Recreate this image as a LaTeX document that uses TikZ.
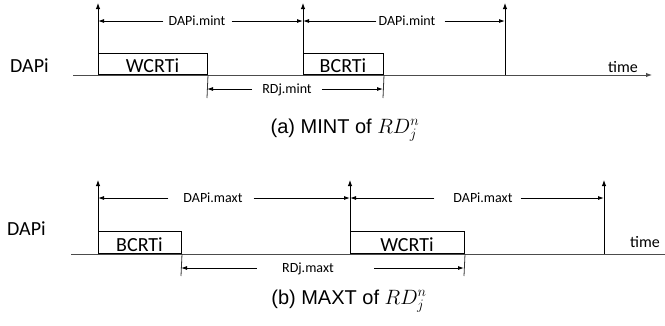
\documentclass[tikz,border=0pt]{standalone}
\usepackage{fontspec}
\setmainfont{Liberation Sans}
\newfontfamily\calfont{Carlito}
\usetikzlibrary{arrows.meta}
\begin{document}
\begin{tikzpicture}[x=1pt,y=-1pt,
  ax/.style={line width=1pt, black!70},
  tk/.style={line width=1pt, -{Latex[length=6pt,width=4.5pt]}},
  dim/.style={line width=0.9pt, -{Latex[length=6pt,width=4pt]}},
  tickline/.style={line width=0.8pt, black!80},
  job/.style={draw, line width=1pt, inner sep=0pt, anchor=south west},
  lbl/.style={font=\calfont\fontsize{20}{22}\selectfont, inner sep=0pt, anchor=base},
  dl/.style={font=\calfont\fontsize{14}{16}\selectfont, inner sep=0pt, text height=9pt, text depth=0pt, anchor=center},
  tl/.style={font=\calfont\fontsize{16}{18}\selectfont, inner sep=0pt, anchor=base west},
  captext/.style={font=\fontsize{20}{24}\selectfont, inner sep=0pt, anchor=base}]
\useasboundingbox (0,0) rectangle (665,325);

% ---------------- panel (a) ----------------
\coordinate (a0) at (73,75);
\coordinate (aE) at (652,75);
\draw[ax,-{Latex[length=6pt,width=4.5pt]}] (a0) -- (aE);
\coordinate (ap1b) at (98,75);  \coordinate (ap1t) at (98,3);
\coordinate (ap2b) at (303,75); \coordinate (ap2t) at (303,3);
\coordinate (ap3b) at (505,75); \coordinate (ap3t) at (505,3);

\node[job, minimum width=109pt, minimum height=21pt] (wa) at (98,75) {};
\node[job, minimum width=80pt, minimum height=21pt] (ba) at (303,75) {};
\node[lbl] (wat) at (152.5,72) {WCRTi};
\node[lbl] (bat) at (343,72) {BCRTi};

\draw[tk] (ap1b) -- (ap1t);
\draw[tk] (ap2b) -- (ap2t);
\draw[tk] (ap3b) -- (ap3t);

\node[lbl, anchor=base west] (dapa) at (10,72) {DAPi};
\node[tl] (timea) at (608,72) {time};

\node[dl] (da1) at (197,21) {DAPi.mint};
\draw[dim, shorten <=5pt] (da1.west) -- (da1.west -| ap1t);
\draw[dim, shorten <=6pt] (da1.east) -- (da1.east -| ap2t);
\node[dl] (da2) at (407,21) {DAPi.mint};
\draw[dim, shorten <=2pt] (da2.west) -- (da2.west -| ap2t);
\draw[dim, shorten <=9pt] (da2.east) -- (da2.east -| ap3t);

\coordinate (ta1) at (207,98);
\coordinate (ta2) at (383,98);
\draw[tickline] (wa.south east) -- (ta1);
\draw[tickline] (ba.south east) -- (ta2);
\node[dl] (ra) at (287,89) {RDj.mint};
\draw[dim, shorten <=10pt] (ra.west) -- (ra.west -| ta1);
\draw[dim, shorten <=10pt] (ra.east) -- (ra.east -| ta2);

\node[captext] (capa) at (345,133) {(a) MINT of $RD_j^n$};

% ---------------- panel (b) ----------------
\coordinate (b0) at (71,254);
\coordinate (bE) at (665,254);
\draw[ax] (b0) -- (bE);
\coordinate (bp1b) at (98,254);  \coordinate (bp1t) at (98,180);
\coordinate (bp2b) at (350,254); \coordinate (bp2t) at (350,180);
\coordinate (bp3b) at (604,254); \coordinate (bp3t) at (604,180);

\node[job, minimum width=83pt, minimum height=22pt] (bb) at (98,254) {};
\node[job, minimum width=114pt, minimum height=22pt] (wb) at (350,254) {};
\node[lbl] (bbt) at (139.5,251) {BCRTi};
\node[lbl] (wbt) at (407,251) {WCRTi};

\draw[tk] (bp1b) -- (bp1t);
\draw[tk] (bp2b) -- (bp2t);
\draw[tk] (bp3b) -- (bp3t);

\node[lbl, anchor=base west] (dapb) at (7,235) {DAPi};
\node[tl] (timeb) at (630,247) {time};

\node[dl] (db1) at (213,198) {DAPi.maxt};
\draw[dim, shorten <=15pt] (db1.west) -- (db1.west -| bp1t);
\draw[dim, shorten <=11pt] (db1.east) -- (db1.east -| bp2t);
\node[dl] (db2) at (483,198) {DAPi.maxt};
\draw[dim, shorten <=19pt] (db2.west) -- (db2.west -| bp2t);
\draw[dim, shorten <=8pt] (db2.east) -- (db2.east -| bp3t);

\coordinate (tb1) at (181,276);
\coordinate (tb2) at (464,276);
\draw[tickline] (bb.south east) -- (tb1);
\draw[tickline] (wb.south east) -- (tb2);
\node[dl] (rb) at (308,268) {RDj.maxt};
\draw[dim, shorten <=25pt] (rb.west) -- (rb.west -| tb1);
\draw[dim, shorten <=40pt] (rb.east) -- (rb.east -| tb2);

\node[captext] (capb) at (349,304) {(b) MAXT of $RD_j^n$};
\end{tikzpicture}
\end{document}
